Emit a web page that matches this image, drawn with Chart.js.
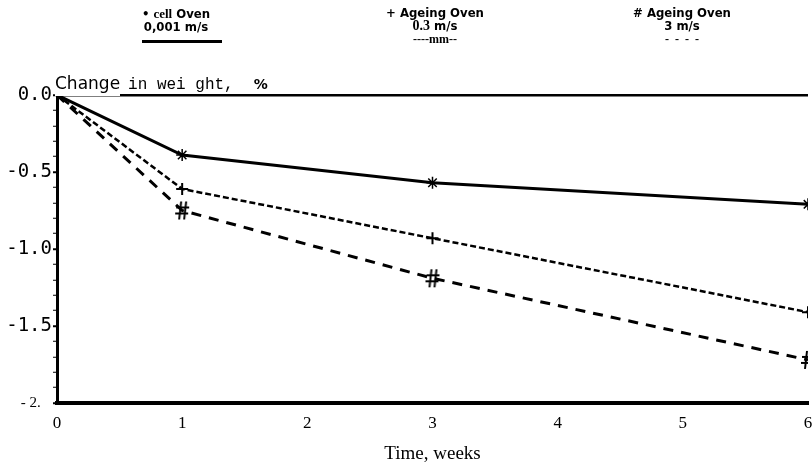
<!DOCTYPE html>
<html>
<head>
<meta charset="utf-8">
<script src="https://cdn.jsdelivr.net/npm/chart.js@4/dist/chart.umd.min.js"></script>
<style>
    html, body { margin: 0; padding: 0; background: #fff; }
    #wrap { position: relative; width: 812px; height: 467px; }
    canvas { position: absolute; left: 0; top: 0; }
    .leg { position: absolute; text-align: center; color: #000; font-family: "Liberation Sans Narrow", "DejaVu Sans Condensed", "Liberation Sans", sans-serif; font-size: 13px; font-weight: bold; line-height: 13px; }
    .leg b { font-family: "Liberation Serif", serif; font-size: 13px; }
    .sample { font-family: "Liberation Serif", serif; font-weight: bold; font-size: 12px; }
    #ytitle { position: absolute; left: 55px; top: 73px; color: #000; white-space: nowrap; }
    #ytitle .a { font-family: "DejaVu Sans", sans-serif; font-size: 17px; background: #fff; padding-bottom: 3px; }
    #ytitle .b { font-family: "Liberation Mono", monospace; font-size: 16px; margin-left: 8px; }
    #ytitle .c { font-family: "DejaVu Sans", sans-serif; font-weight: bold; font-size: 14px; margin-left: 20px; }
</style>
</head>
<body>
<div id="wrap">
    <canvas id="chart" width="812" height="467"></canvas>
    <div class="leg" style="left:130px; top:7px; width:92px;">
        &bull; <b>cell</b> Oven<br><span>0,001 m/s</span>
        <div style="margin:7px auto 0 12px; width:80px; height:3px; background:#000;"></div>
    </div>
    <div class="leg" style="left:375px; top:6px; width:120px;">
        + Ageing Oven<br><span style="font-family:'Liberation Serif',serif; font-weight:bold; font-size:14px;">0.3</span> m/s<br><span class="sample">----mm--</span>
    </div>
    <div class="leg" style="left:622px; top:6px; width:120px;">
        # Ageing Oven<br>3 m/s<br><span class="sample">- &nbsp;- &nbsp;- &nbsp;-</span>
    </div>
    <div id="ytitle"><span class="a">Change</span><span class="b">in wei ght,</span><span class="c">%</span></div>
</div>
<script>
// values (weight change, %)
const weeks = [0, 1, 3, 6];
const cellOven = [0, -0.39, -0.57, -0.71];
const ageing03 = [0, -0.61, -0.93, -1.41];
const ageing3 = [0, -0.75, -1.19, -1.72];

const xTicks = ['0', '1', '2', '3', '4', '5', '6'];
const yTickLabels = { '0': '0.0', '-0.5': '-0.5', '-1': '-1.0', '-1.5': '-1.5', '-2': '- 2.   ' };

// '#' marker drawn once onto a small canvas
function hashMarker() {
    const c = document.createElement('canvas');
    c.width = 16; c.height = 22;
    const g = c.getContext('2d');
    g.strokeStyle = '#000';
    g.lineWidth = 2;
    g.beginPath();
    g.moveTo(7, 2); g.lineTo(5, 20);
    g.moveTo(12, 2); g.lineTo(10, 20);
    g.moveTo(2, 8); g.lineTo(15, 8);
    g.moveTo(1, 14); g.lineTo(14, 14);
    g.stroke();
    return c;
}

function toPoints(ys) {
    return weeks.map((w, i) => ({ x: w, y: ys[i] }));
}

// tenths of the tick value, or null when there is no tick in the context
function tenths(ctx) {
    return ctx && ctx.tick ? Math.round(ctx.tick.value * 10) : null;
}

const hidePointAtZero = ctx => ctx.dataIndex === 0 ? 0 : 6;

const ctx = document.getElementById('chart');
new Chart(ctx, {
    type: 'line',
    data: {
        datasets: [
            {
                label: 'cell Oven 0,001 m/s',
                data: toPoints(cellOven),
                borderColor: '#000',
                borderWidth: 3,
                pointStyle: 'star',
                pointRadius: hidePointAtZero,
                pointBorderColor: '#000',
                pointBorderWidth: 1.5
            },
            {
                label: 'Ageing Oven 0.3 m/s',
                data: toPoints(ageing03),
                borderColor: '#000',
                borderWidth: 2.5,
                borderDash: [6, 3],
                pointStyle: 'cross',
                pointRadius: hidePointAtZero,
                pointBorderColor: '#000',
                pointBorderWidth: 2
            },
            {
                label: 'Ageing Oven 3 m/s',
                data: toPoints(ageing3),
                borderColor: '#000',
                borderWidth: 3,
                borderDash: [10, 8],
                pointStyle: hashMarker(),
                pointRadius: hidePointAtZero
            }
        ]
    },
    options: {
        responsive: false,
        animation: false,
        layout: { autoPadding: false, padding: { top: 95, right: 4, left: 0, bottom: 0 } },
        plugins: {
            legend: { display: false },
            tooltip: { enabled: false }
        },
        scales: {
            x: {
                type: 'linear',
                min: 0,
                max: 6,
                afterFit: s => { s.height = 64; s.paddingLeft = 0; s.paddingRight = 0; },
                ticks: {
                    stepSize: 1,
                    callback: (v, i) => xTicks[i],
                    color: '#000',
                    padding: 10,
                    maxRotation: 0,
                    font: { family: '"Liberation Serif", serif', size: 17 }
                },
                grid: { display: false, drawTicks: false },
                border: { display: true, color: '#000', width: 4 },
                title: {
                    display: true,
                    text: 'Time, weeks',
                    color: '#000',
                    padding: { top: 4, bottom: 2 },
                    font: { family: '"Liberation Serif", serif', size: 19 }
                }
            },
            y: {
                min: -2,
                max: 0,
                afterFit: s => { s.width = 57; s.paddingTop = 0; s.paddingBottom = 0; },
                ticks: {
                    stepSize: 0.1,
                    autoSkip: false,
                    color: '#000',
                    padding: 1,
                    callback: v => yTickLabels[String(Math.round(v * 10) / 10)] || '',
                    font: ctx => tenths(ctx) === -20
                        ? { family: '"Liberation Serif", serif', size: 15 }
                        : { family: '"DejaVu Sans Mono", monospace', size: 19 }
                },
                grid: {
                    drawOnChartArea: true,
                    color: ctx => tenths(ctx) === 0 ? '#000' : 'rgba(0,0,0,0)',
                    lineWidth: 2.5,
                    tickColor: '#000',
                    tickLength: 4,
                    tickWidth: ctx => tenths(ctx) !== null && tenths(ctx) % 5 === 0 ? 2 : 1
                },
                border: { display: true, color: '#000', width: 3 }
            }
        }
    }
});
</script>
</body>
</html>
